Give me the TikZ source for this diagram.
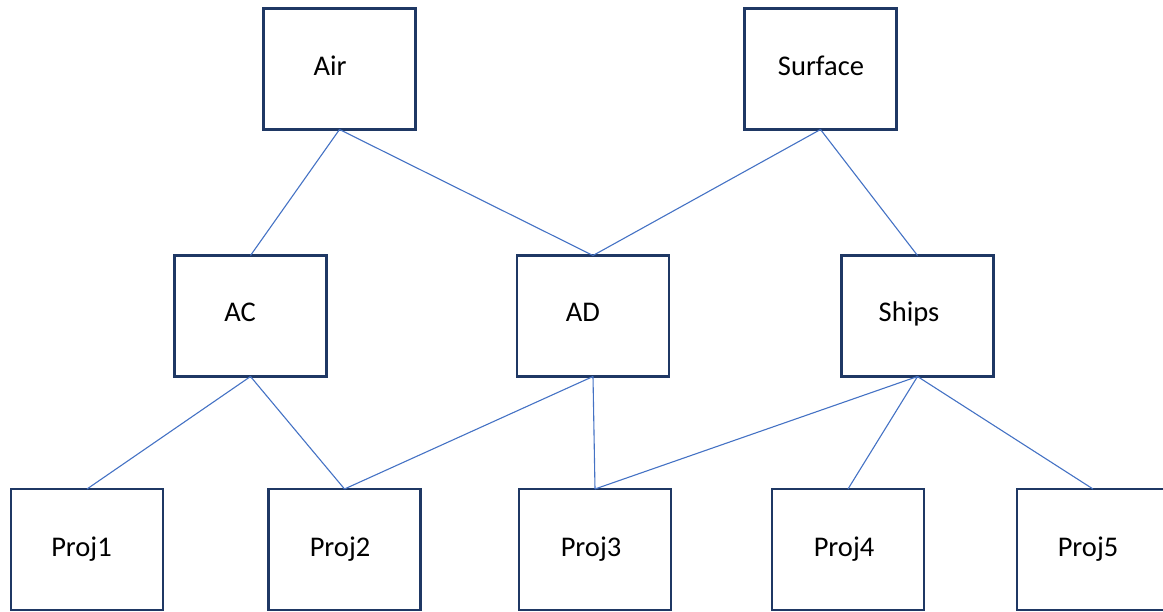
\documentclass[tikz,border=0pt]{standalone}
\usepackage{fontspec}
\setmainfont{Carlito}
\definecolor{boxline}{HTML}{1F3864}
\definecolor{linkline}{HTML}{4472C4}
\begin{document}
\begin{tikzpicture}[x=1pt,y=-1pt,
  unit/.style={draw=boxline, line width=2.4pt, fill=white, rectangle,
    minimum width=152pt, minimum height=121pt, inner sep=0pt, outer sep=0pt},
  lbl/.style={anchor=base, inner sep=0pt, font=\fontsize{28.5pt}{34pt}\selectfont},
  link/.style={draw=linkline, line width=1.1pt}]
\useasboundingbox (0,0) rectangle (1163,612);

% top tier
\node[unit] (air) at (339.5,69) {};
\node[unit] (surface) at (820.5,69) {};
% middle tier
\node[unit] (ac) at (250.5,316) {};
\node[unit] (ad) at (593,316) {};
\node[unit] (ships) at (917.5,316) {};
% bottom tier
\node[unit] (p1) at (87,549.5) {};
\node[unit] (p2) at (344.5,549.5) {};
\node[unit] (p3) at (595,549.5) {};
\node[unit] (p4) at (848,549.5) {};
\node[unit] (p5) at (1093,549.5) {};

% box captions
\node[lbl] (tair) at (330,76) {Air};
\node[lbl] (tsurface) at (821,76) {Surface};
\node[lbl] (tac) at (240,322) {AC};
\node[lbl] (tad) at (583,322) {AD};
\node[lbl] (tships) at (909,322) {Ships};
\node[lbl] (tp1) at (81.5,556) {Proj1};
\node[lbl] (tp2) at (340,556) {Proj2};
\node[lbl] (tp3) at (591,556) {Proj3};
\node[lbl] (tp4) at (844,556) {Proj4};
\node[lbl] (tp5) at (1088,556) {Proj5};

% connectors between tiers
\draw[link] (air.south) -- (ac.north);
\draw[link] (air.south) -- (ad.north);
\draw[link] (surface.south) -- (ad.north);
\draw[link] (surface.south) -- (ships.north);
\draw[link] (ac.south) -- (p1.north);
\draw[link] (ac.south) -- (p2.north);
\draw[link] (ad.south) -- (p2.north);
\draw[link] (ad.south) -- (p3.north);
\draw[link] (ships.south) -- (p3.north);
\draw[link] (ships.south) -- (p4.north);
\draw[link] (ships.south) -- (p5.north);
\end{tikzpicture}
\end{document}
